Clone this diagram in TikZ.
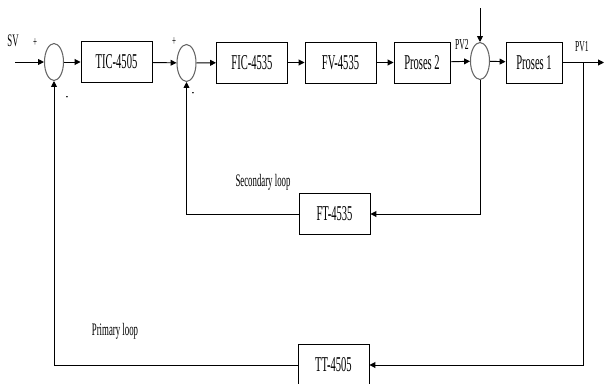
\documentclass[tikz,border=0pt]{standalone}
\usepackage{fontspec}
\setmainfont[FakeStretch=0.5]{Liberation Serif}
\usetikzlibrary{arrows.meta,shapes.geometric,positioning}

\begin{document}
\begin{tikzpicture}[x=0.03cm,y=-0.03cm,
  blk/.style={draw,line width=0.8pt,minimum width=2.13cm,minimum height=1.23cm,inner sep=0pt,font=\fontsize{18}{20}\selectfont},
  sumj/.style={draw=black!60,line width=0.9pt,ellipse,minimum width=0.57cm,minimum height=1.11cm,inner sep=0pt},
  sig/.style={-{Triangle[length=5pt,width=5pt]},line width=0.8pt},
  lbl/.style={inner sep=0pt,font=\fontsize{15}{16}\selectfont},
  sgn/.style={inner sep=0pt,font=\fontsize{12}{13}\selectfont}]
 \useasboundingbox (0,0) rectangle (606,383);
 % forward path
 \coordinate (sv) at (15,62);
 \node[sumj] (s1) at (54,62) {};
 \node[blk] (tic) at (116.5,62) {TIC-4505};
 \node[sumj] (s2) at (186.5,63) {};
 \node[blk] (fic) at (252,62.5) {FIC-4535};
 \node[blk] (fv) at (340.5,62.5) {FV-4535};
 \node[blk,minimum width=1.68cm] (p2) at (422,62.5) {Proses 2};
 \node[sumj] (s3) at (480,61) {};
 \node[blk,minimum width=1.68cm] (p1) at (534,62.5) {Proses 1};
 \coordinate (out) at (604,62.5);
 \coordinate (br) at (583,62.5);
 \coordinate (dist) at (480,8);
 % feedback blocks
 \node[blk] (ft) at (334.5,214) {FT-4535};
 \node[blk] (tt) at (333.5,365) {TT-4505};
 \draw[sig] (sv) -- (s1);
 \draw[sig] (s1) -- (tic);
 \draw[sig] (tic) -- (s2);
 \draw[sig] (s2) -- (fic);
 \draw[sig] (fic) -- (fv);
 \draw[sig] (fv) -- (p2);
 \draw[sig] (p2) -- (s3);
 \draw[sig] (s3) -- (p1);
 \draw[sig] (p1) -- (out);
 \draw[sig] (dist) -- (s3);
 \draw[sig] (s3.south) |- (ft.east);
 \draw[sig] (ft.west) -| (s2.south);
 \draw[sig] (br) |- (tt.east);
 \draw[sig] (tt.west) -| (s1.south);
 % labels
 \node[lbl] (lsv) at (13,41) {SV};
 \node[sgn] (pl1) at (35,43) {+};
 \node[sgn] (mi1) at (67,99) {-};
 \node[sgn] (pl2) at (174,42) {+};
 \node[sgn] (mi2) at (193,95) {-};
 \node[lbl,font=\fontsize{13}{14}\selectfont] (lpv2) at (462,45) {PV2};
 \node[lbl,font=\fontsize{13}{14}\selectfont] (lpv1) at (582,47) {PV1};
 \node[lbl] (lsec) at (263,182) {Secondary loop};
 \node[lbl] (lpri) at (115,331) {Primary loop};
\end{tikzpicture}
\end{document}
